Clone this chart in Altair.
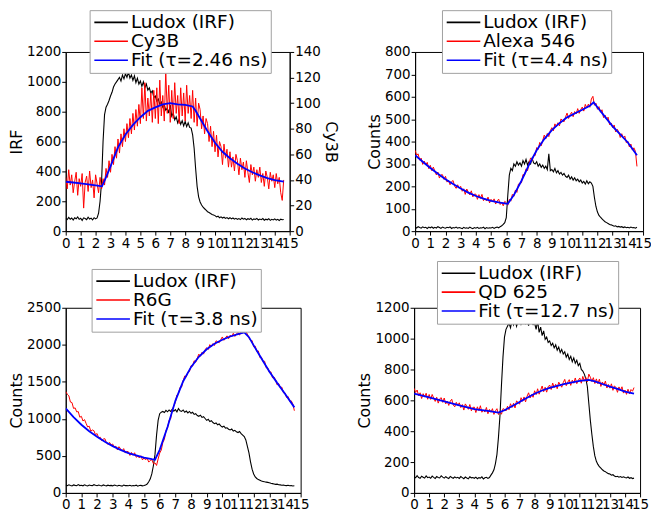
import altair as alt
import pandas as pd

FONT = "DejaVu Sans"
T = [round(i * 0.1, 1) for i in range(147)]
X_TICKS = list(range(16))
COLORS = ["#000000", "#ff0000", "#0000ff"]

# ---------------- Panel A : Cy3B ----------------
NAMES_A = ["Ludox (IRF)", "Cy3B", "Fit (τ=2.46 ns)"]
A_IRF = [85, 78, 92, 80, 88, 74, 90, 83, 95, 79,
         86, 72, 89, 84, 77, 93, 81, 87, 75, 90,
         82, 88, 120, 200, 330, 600, 780, 830, 850, 875,
         905, 930, 965, 985, 1000, 1015, 1030, 1005, 1045, 1020,
         1055, 1030, 1065, 1025, 1045, 1010, 1040, 995, 1025, 985,
         1005, 970, 1000, 960, 985, 945, 960, 925, 940, 895,
         905, 870, 885, 850, 865, 830, 845, 810, 825, 790,
         845, 770, 790, 745, 765, 725, 750, 715, 740, 705,
         735, 700, 725, 695, 690, 645, 555, 420, 300, 230,
         195, 175, 160, 150, 140, 130, 125, 118, 112, 108,
         104, 95, 100, 90, 96, 88, 93, 85, 91, 83,
         90, 82, 88, 80, 86, 79, 84, 77, 88, 80,
         85, 76, 83, 79, 86, 74, 82, 78, 85, 75,
         81, 77, 84, 73, 80, 76, 83, 72, 79, 75,
         82, 74, 79, 71, 80, 76, 78]
A_DYE = [42, 33, 48, 36, 44, 30, 39, 46, 28, 41,
         35, 45, 18, 38, 43, 31, 47, 34, 40, 26,
         44, 37, 30, 42, 33, 41, 36, 49, 42, 55,
         46, 60, 52, 66, 57, 72, 61, 76, 66, 80,
         70, 84, 73, 88, 76, 92, 79, 95, 82, 99,
         84, 112, 88, 116, 86, 104, 90, 108, 85, 110,
         88, 112, 84, 118, 90, 106, 86, 125, 92, 114,
         85, 110, 88, 116, 92, 106, 84, 112, 90, 108,
         86, 114, 92, 106, 88, 110, 85, 104, 82, 100,
         95, 80, 90, 76, 88, 84, 70, 82, 66, 78,
         62, 75, 58, 70, 66, 52, 68, 57, 64, 50,
         62, 50, 58, 47, 60, 55, 44, 57, 48, 54,
         42, 55, 46, 38, 52, 44, 50, 39, 48, 42,
         50, 38, 45, 35, 47, 42, 33, 46, 39, 44,
         34, 45, 37, 42, 30, 24, 40]
A_FIT_T = [0, 0.5, 1, 1.5, 2, 2.43, 2.6, 2.8, 3, 3.25, 3.5, 4, 4.5, 5, 5.5, 6, 6.5,
           7, 7.5, 8, 8.5, 8.7, 9, 9.5, 10, 10.5, 11, 11.5, 12, 12.5, 13, 13.5, 14, 14.6]
A_FIT = [38.6, 38, 37.3, 36.5, 35.8, 35, 39.5, 45, 50.6, 58, 65.5, 75.5, 83, 89, 94, 96.7, 99,
         100, 99, 98.7, 97.4, 94, 88, 78, 69, 62, 57, 52.6, 49, 46, 43.6, 41.4, 39.9, 38.6]

# ---------------- Panel B : Alexa 546 ----------------
NAMES_B = ["Ludox (IRF)", "Alexa 546", "Fit (τ=4.4 ns)"]
B_IRF = [18, 14, 20, 16, 13, 19, 15, 17, 12, 18,
         15, 19, 13, 17, 14, 20, 16, 12, 18, 15,
         13, 17, 15, 19, 12, 16, 14, 18, 13, 16,
         14, 11, 17, 13, 15, 12, 18, 14, 11, 16,
         13, 17, 12, 15, 14, 18, 11, 16, 13, 15,
         14, 17, 12, 16, 18, 15, 20, 24, 30, 38,
         60, 160, 250, 280, 270, 300, 290, 310, 295, 305,
         290, 315, 300, 320, 295, 310, 300, 325, 305, 300,
         310, 290, 300, 285, 295, 280, 290, 275, 345, 270,
         275, 265, 280, 260, 270, 255, 262, 250, 258, 245,
         240, 250, 232, 242, 228, 238, 225, 232, 220, 228,
         215, 222, 210, 225, 212, 220, 215, 200, 150, 110,
         85, 70, 62, 55, 48, 42, 38, 34, 30, 28,
         25, 22, 24, 19, 21, 18, 20, 16, 19, 15,
         17, 14, 18, 15, 16, 13, 17]
B_DYE = [361, 339, 345, 317, 326, 298, 313, 296, 307, 279,
         294, 270, 286, 268, 251, 264, 237, 251, 252, 231,
         245, 219, 227, 207, 221, 226, 201, 191, 207, 192,
         200, 178, 189, 164, 188, 175, 162, 180, 153, 165,
         165, 142, 163, 146, 164, 136, 145, 135, 152, 126,
         142, 131, 144, 121, 134, 143, 119, 129, 113, 133,
         127, 116, 142, 134, 164, 156, 183, 173, 210, 214,
         216, 253, 250, 278, 270, 303, 327, 315, 338, 337,
         373, 365, 396, 381, 405, 429, 412, 436, 422, 449,
         462, 448, 479, 466, 484, 470, 501, 494, 488, 510,
         527, 503, 520, 531, 511, 534, 523, 547, 526, 543,
         554, 536, 566, 550, 567, 553, 590, 602, 562, 571,
         544, 556, 531, 542, 507, 518, 499, 509, 475, 483,
         462, 474, 443, 455, 443, 418, 435, 416, 425, 395,
         402, 376, 389, 362, 372, 356, 289]
B_FIT_T = [0, 0.5, 1, 1.5, 2, 2.5, 3, 3.5, 4, 4.5, 5, 5.5, 6, 6.1, 6.5, 7, 7.5, 8, 8.5,
           9, 9.5, 10, 10.5, 11, 11.5, 11.75, 12, 12.5, 13, 13.5, 14, 14.6]
B_FIT = [339, 310, 282, 256, 232, 210, 190, 172, 157, 145, 135, 128, 123, 122, 161, 225, 297,
         361, 411, 451, 482, 508, 525, 542, 560, 575, 553, 510, 468, 432, 396, 339]

# ---------------- Panel C : R6G ----------------
NAMES_C = ["Ludox (IRF)", "R6G", "Fit (τ=3.8 ns)"]
C_IRF = [105, 98, 110, 100, 95, 108, 102, 97, 112, 99,
         104, 96, 109, 101, 94, 107, 100, 98, 111, 103,
         97, 106, 99, 93, 108, 101, 96, 105, 98, 102,
         95, 107, 100, 94, 104, 98, 92, 106, 99, 101,
         96, 103, 93, 100, 97, 105, 91, 99, 102, 95,
         100, 108, 120, 150, 190, 260, 370, 520, 780, 980,
         1070, 1090, 1100, 1085, 1115, 1095, 1120, 1100, 1130, 1105,
         1125, 1095, 1140, 1110, 1100, 1120, 1090, 1105, 1080, 1100,
         1075, 1090, 1060, 1070, 1045, 1035, 1050, 1020, 1030, 1005,
         980, 995, 965, 975, 950, 935, 945, 920, 930, 905,
         890, 900, 875, 880, 860, 850, 862, 835, 845, 825,
         815, 830, 800, 780, 760, 715, 630, 540, 420, 320,
         255, 215, 195, 180, 170, 160, 155, 150, 146, 142,
         138, 130, 125, 120, 115, 118, 110, 108, 104, 106,
         100, 98, 103, 96, 99, 94, 97]
C_DYE = [1370, 1332, 1311, 1227, 1220, 1141, 1148, 1094, 1098, 1022,
         1034, 971, 990, 939, 890, 901, 834, 850, 840, 785,
         802, 742, 753, 706, 729, 732, 678, 654, 682, 648,
         660, 614, 632, 580, 624, 596, 566, 598, 540, 560,
         556, 506, 546, 508, 542, 482, 496, 472, 502, 446,
         474, 446, 468, 416, 438, 450, 394, 406, 371, 458,
         538, 578, 680, 724, 841, 875, 978, 1002, 1122, 1174,
         1222, 1323, 1342, 1425, 1429, 1517, 1579, 1569, 1631, 1638,
         1719, 1713, 1785, 1765, 1820, 1874, 1846, 1898, 1874, 1932,
         1962, 1937, 2002, 1977, 2016, 1991, 2054, 2041, 2028, 2072,
         2106, 2061, 2096, 2121, 2082, 2130, 2108, 2155, 2113, 2145,
         2167, 2130, 2190, 2157, 2229, 2180, 2145, 2093, 2058, 2058,
         1975, 1982, 1912, 1917, 1827, 1832, 1775, 1778, 1690, 1689,
         1628, 1635, 1556, 1566, 1525, 1458, 1477, 1424, 1428, 1353,
         1352, 1289, 1302, 1237, 1244, 1202, 1110]
C_FIT_T = [0, 0.5, 1, 1.5, 2, 2.5, 3, 3.5, 4, 4.5, 5, 5.5, 5.7, 6, 6.5, 7, 7.5, 8, 8.5,
           9, 9.5, 10, 10.5, 11, 11.4, 11.7, 12, 12.5, 13, 13.5, 14, 14.6]
C_FIT = [1142, 1023, 921, 833, 758, 690, 632, 582, 538, 507, 476, 455, 448, 582, 890, 1243,
         1508, 1698, 1838, 1940, 2015, 2068, 2112, 2143, 2169, 2103, 1993, 1816, 1640, 1486,
         1340, 1155]

# ---------------- Panel D : QD 625 ----------------
NAMES_D = ["Ludox (IRF)", "QD 625", "Fit (τ=12.7 ns)"]
D_IRF = [105, 98, 112, 100, 95, 108, 102, 96, 110, 99,
         103, 95, 109, 101, 94, 106, 100, 97, 111, 102,
         96, 105, 98, 93, 107, 100, 95, 104, 97, 101,
         94, 106, 99, 92, 103, 97, 91, 105, 98, 100,
         95, 102, 92, 99, 96, 104, 90, 98, 101, 94,
         100, 115, 130, 150, 190, 250, 360, 500, 700, 880,
         1010, 1060, 1080, 1100, 1070, 1120, 1090, 1130, 1080, 1110,
         1140, 1095, 1125, 1150, 1100, 1120, 1085, 1130, 1105, 1090,
         1100, 1060, 1115, 1040, 1075, 1020, 1050, 995, 1010, 975,
         985, 955, 970, 940, 960, 925, 945, 910, 930, 900,
         915, 880, 900, 865, 885, 850, 875, 840, 860, 825,
         840, 800, 790, 770, 740, 690, 580, 470, 380, 300,
         240, 205, 185, 170, 160, 150, 142, 138, 130, 125,
         122, 115, 118, 110, 105, 108, 102, 106, 100, 104,
         100, 97, 103, 95, 99, 93, 96]
D_DYE = [678, 651, 667, 630, 649, 612, 643, 621, 646, 607,
         638, 606, 638, 615, 593, 620, 582, 610, 617, 587,
         615, 577, 595, 567, 595, 607, 570, 558, 587, 568,
         584, 553, 573, 537, 577, 561, 542, 573, 532, 554,
         556, 521, 558, 533, 565, 523, 538, 524, 554, 513,
         541, 523, 546, 509, 532, 546, 508, 530, 510, 546,
         542, 531, 562, 539, 578, 554, 581, 551, 596, 587,
         575, 617, 594, 622, 590, 627, 649, 615, 638, 620,
         662, 637, 675, 640, 666, 693, 656, 685, 653, 688,
         699, 670, 712, 683, 704, 675, 718, 702, 685, 715,
         736, 695, 718, 734, 697, 731, 711, 745, 708, 730,
         745, 711, 755, 724, 748, 720, 770, 750, 722, 747,
         709, 739, 708, 737, 690, 719, 698, 725, 680, 703,
         679, 707, 665, 694, 683, 652, 687, 664, 688, 647,
         667, 639, 672, 642, 670, 659, 683]
D_FIT_T = [0, 1, 2, 3, 4, 5, 5.6, 6, 6.5, 7, 7.5, 8, 8.5, 9, 9.5, 10, 10.5, 11, 11.6,
           12, 12.5, 13, 13.5, 14, 14.6]
D_FIT = [643, 619, 594, 568, 543, 530, 521, 536, 562, 589, 617, 643, 664, 681, 694, 706, 717,
         726, 732, 723, 706, 689, 674, 657, 643]


def x_enc():
    return alt.X("t:Q", scale=alt.Scale(domain=[0, 15], nice=False, zero=False),
                 axis=alt.Axis(values=X_TICKS, title=None, labelOverlap=False,
                               labelFlush=False, format="d"))


def y_enc(domain, ticks, title, orient="left"):
    return alt.Y("v:Q", scale=alt.Scale(domain=domain, nice=False),
                 axis=alt.Axis(values=ticks, title=title, orient=orient, labelOverlap=False,
                               labelFlush=False, format="d"))


def c_enc(names, lx, ly):
    return alt.Color("s:N", scale=alt.Scale(domain=names, range=COLORS),
                     legend=alt.Legend(title=None, orient="none", legendX=lx, legendY=ly,
                                       direction="vertical", fillColor="white",
                                       strokeColor="#a0a0a0", padding=3, labelFontSize=18.5,
                                       labelFont=FONT, labelColor="black",
                                       symbolType="M-1,0H3.5", symbolStrokeWidth=1.6,
                                       symbolSize=225, rowPadding=-3,
                                       labelOffset=20, labelLimit=300))


def series(t, v, name, names, y, lx, ly, width):
    df = pd.DataFrame({"t": t, "v": v, "s": name})
    return alt.Chart(df).mark_line(strokeWidth=width, clip=True).encode(
        x=x_enc(), y=y, color=c_enc(names, lx, ly))


def panel(irf, dye, ft, fv, names, ydom, yticks, lx, ly, w, h):
    y = y_enc(ydom, yticks, "Counts")
    return alt.layer(
        series(T, irf, names[0], names, y, lx, ly, 1.1),
        series(T, dye, names[1], names, y, lx, ly, 1.0),
        series(ft, fv, names[2], names, y, lx, ly, 1.8),
    ).properties(width=w, height=h)


# Panel A with two y axes
yA_left = y_enc([0, 1200], list(range(0, 1201, 200)), "IRF")
yA_right = y_enc([0, 140], list(range(0, 141, 20)), "Cy3B", orient="right")
pA = alt.layer(
    series(T, A_IRF, NAMES_A[0], NAMES_A, yA_left, 24, -42, 1.1),
    alt.layer(
        series(T, A_DYE, NAMES_A[1], NAMES_A, yA_right, 24, -42, 1.0),
        series(A_FIT_T, A_FIT, NAMES_A[2], NAMES_A, yA_right, 24, -42, 1.8),
    ),
).resolve_scale(y="independent").properties(width=225, height=180)

pB = panel(B_IRF, B_DYE, B_FIT_T, B_FIT, NAMES_B, [0, 800], list(range(0, 801, 100)),
           27, -42, 229, 180)
pC = panel(C_IRF, C_DYE, C_FIT_T, C_FIT, NAMES_C, [0, 2500], list(range(0, 2501, 500)),
           26, -39, 236, 186)
pD = panel(D_IRF, D_DYE, D_FIT_T, D_FIT, NAMES_D, [0, 1200], list(range(0, 1201, 200)),
           23, -47, 227, 186)

row1 = alt.hconcat(pA, pB, spacing=26).resolve_scale(color="independent")
row2 = alt.hconcat(pC, pD, spacing=114, bounds="flush").resolve_scale(color="independent")

chart = alt.vconcat(row1, row2, spacing=10).resolve_scale(color="independent").properties(
    padding={"left": 0, "top": 0, "right": -2, "bottom": -1}
).configure_view(stroke="black", strokeWidth=1).configure_axis(
    labelFont=FONT, labelFontSize=13.5, labelColor="black", titleFont=FONT, titleFontSize=16,
    titleFontWeight="normal", titleColor="black", domainColor="black", tickColor="black",
    tickSize=4, grid=False, labelPadding=1, titlePadding=2
)

chart.save("out.html", embed_options={"renderer": "svg", "actions": False})
